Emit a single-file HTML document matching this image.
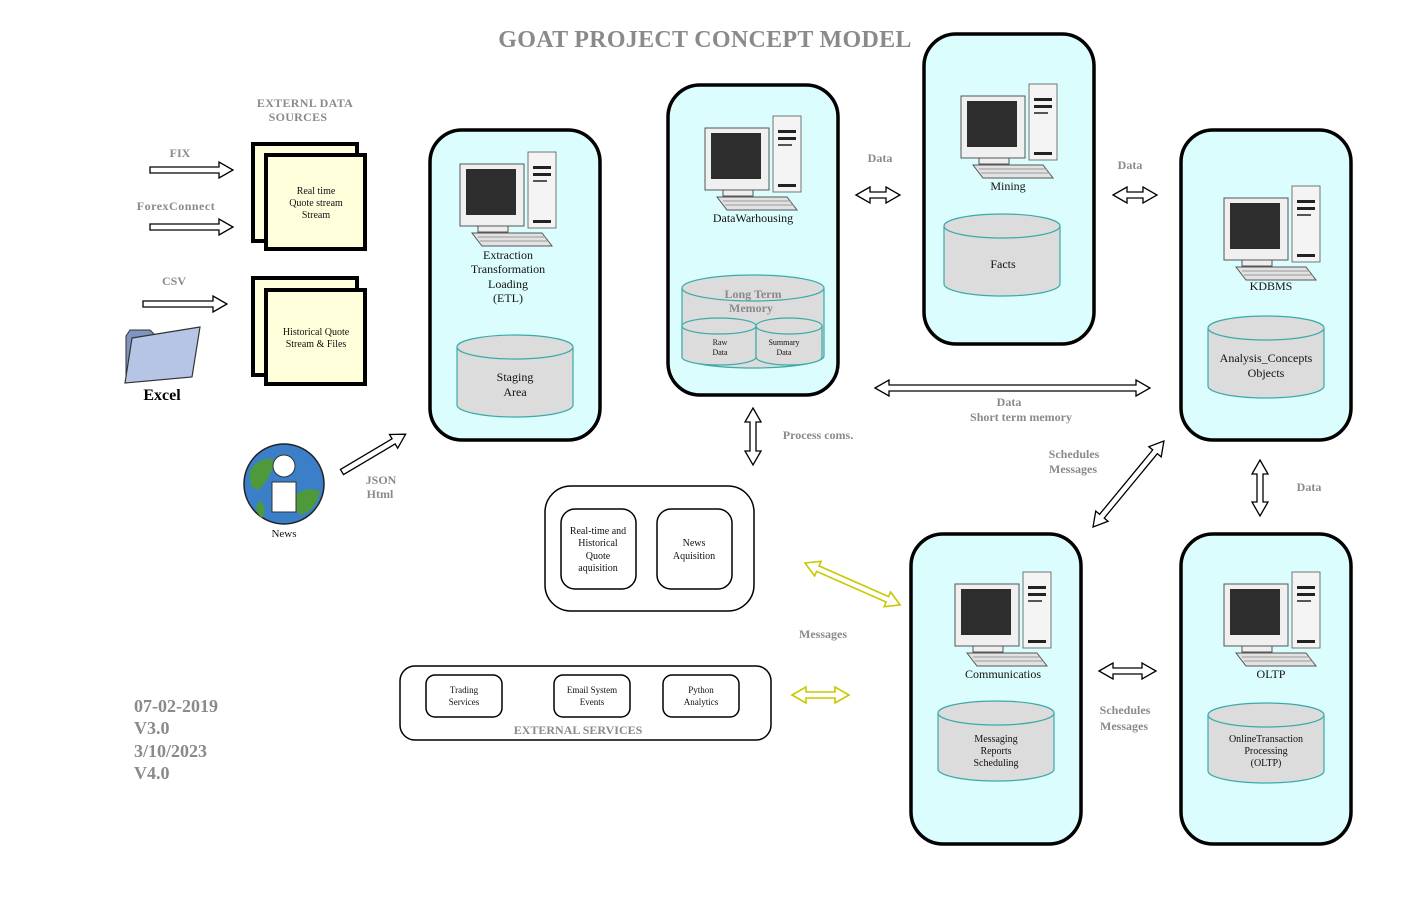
<!DOCTYPE html>
<html><head><meta charset="utf-8"><style>
body{margin:0;background:#fff}
svg{display:block}
text{font-family:"Liberation Serif",serif}
.g{fill:#8a8a8a;font-weight:bold}
.k{fill:#111}
.panel{fill:#dcfdfd;stroke:#000;stroke-width:3.5}
.cyl{fill:#dcdcdc;stroke:#3aaaa8;stroke-width:1.2}
.ar{fill:#fff;stroke:#000;stroke-width:1.3}
.ay{fill:#fff;stroke:#c8c800;stroke-width:1.6}
</style></head><body>
<svg width="1426" height="899" viewBox="0 0 1426 899" xmlns="http://www.w3.org/2000/svg">
<defs>
<g id="pc">
  <rect x="70" y="0" width="28" height="76" fill="#f4f4f4" stroke="#555" stroke-width="0.8"/>
  <rect x="75" y="14" width="18" height="3" fill="#222"/>
  <rect x="75" y="21" width="18" height="3" fill="#222"/>
  <rect x="75" y="28" width="14" height="2" fill="#555"/>
  <rect x="75" y="68" width="18" height="3" fill="#222"/>
  <rect x="2" y="12" width="64" height="62" fill="#f0f0f0" stroke="#555" stroke-width="1"/>
  <rect x="8" y="17" width="50" height="46" fill="#2d2d2d"/>
  <rect x="20" y="74" width="30" height="6" fill="#eee" stroke="#555" stroke-width="1"/>
  <polygon points="14,81 84,81 94,94 24,94" fill="#e2e2e2" stroke="#555" stroke-width="1"/>
  <line x1="20" y1="85" x2="88" y2="85" stroke="#999"/>
  <line x1="22" y1="89" x2="91" y2="89" stroke="#999"/>
</g>
</defs>

<text x="705" y="47" text-anchor="middle" class="g" font-size="24" letter-spacing="0.3">GOAT PROJECT CONCEPT MODEL</text>

<text x="305" y="107" text-anchor="middle" class="g" font-size="12" letter-spacing="0.3">EXTERNL DATA</text>
<text x="298" y="121" text-anchor="middle" class="g" font-size="12" letter-spacing="0.3">SOURCES</text>
<text x="180" y="157" text-anchor="middle" class="g" font-size="12">FIX</text>
<text x="176" y="210" text-anchor="middle" class="g" font-size="12" letter-spacing="0.5">ForexConnect</text>
<text x="174" y="285" text-anchor="middle" class="g" font-size="12">CSV</text>

<path class="ar" d="M150,167 H219 V162 L233,170 L219,178 V173 H150 Z"/>
<path class="ar" d="M150,224 H219 V219 L233,227 L219,235 V230 H150 Z"/>
<path class="ar" d="M143,301 H213 V296 L227,304 L213,312 V307 H143 Z"/>

<rect x="253" y="144" width="104" height="97" fill="#ffffdc" stroke="#000" stroke-width="4"/>
<rect x="266" y="155" width="99" height="94" fill="#ffffdc" stroke="#000" stroke-width="4"/>
<text x="316" y="194" text-anchor="middle" class="k" font-size="10">Real time</text>
<text x="316" y="206" text-anchor="middle" class="k" font-size="10">Quote stream</text>
<text x="316" y="218" text-anchor="middle" class="k" font-size="10">Stream</text>
<rect x="253" y="278" width="104" height="97" fill="#ffffdc" stroke="#000" stroke-width="4"/>
<rect x="266" y="290" width="99" height="94" fill="#ffffdc" stroke="#000" stroke-width="4"/>
<text x="316" y="335" text-anchor="middle" class="k" font-size="10">Historical Quote</text>
<text x="316" y="347" text-anchor="middle" class="k" font-size="10">Stream &amp; Files</text>

<path d="M126,336 L130,330 L150,330 L155,335 L160,335 L160,380 L126,380 Z" fill="#7f95c0" stroke="#333"/>
<polygon points="132,338 200,327 192,377 125,383" fill="#b6c4e6" stroke="#333" stroke-width="1.2"/>
<text x="162" y="400" text-anchor="middle" font-size="16" font-weight="bold" fill="#000">Excel</text>

<circle cx="284" cy="484" r="40" fill="#3a7fc8" stroke="#222" stroke-width="1.5"/>
<path d="M250,470 Q262,455 275,460 Q270,480 258,490 Q248,488 250,470Z" fill="#4e9a3a"/>
<path d="M295,495 Q310,485 320,492 Q315,512 300,515 Q292,505 295,495Z" fill="#4e9a3a"/>
<path d="M260,500 Q268,510 262,518 Q252,510 260,500Z" fill="#4e9a3a"/>
<circle cx="284" cy="466" r="11" fill="#fff" stroke="#333"/>
<rect x="272" y="482" width="24" height="30" fill="#fff" stroke="#333"/>
<text x="284" y="537" text-anchor="middle" class="k" font-size="11" fill="#333">News</text>
<g transform="translate(342,472) rotate(-30.7)"><path class="ar" d="M0,-3 H60 V-8 L74,0 L60,8 V3 H0 Z"/></g>
<text x="381" y="484" text-anchor="middle" class="g" font-size="12">JSON</text>
<text x="380" y="498" text-anchor="middle" class="g" font-size="12">Html</text>

<rect class="panel" x="430" y="130" width="170" height="310" rx="32"/>
<rect class="panel" x="668" y="85" width="170" height="310" rx="32"/>
<rect class="panel" x="924" y="34" width="170" height="310" rx="32"/>
<rect class="panel" x="1181" y="130" width="170" height="310" rx="32"/>
<rect class="panel" x="911" y="534" width="170" height="310" rx="32"/>
<rect class="panel" x="1181" y="534" width="170" height="310" rx="32"/>

<use href="#pc" x="458" y="152"/>
<use href="#pc" x="703" y="116"/>
<use href="#pc" x="959" y="84"/>
<use href="#pc" x="1222" y="186"/>
<use href="#pc" x="953" y="572"/>
<use href="#pc" x="1222" y="572"/>

<text x="508" y="259" text-anchor="middle" class="k" font-size="12">Extraction</text>
<text x="508" y="273" text-anchor="middle" class="k" font-size="12">Transformation</text>
<text x="508" y="288" text-anchor="middle" class="k" font-size="12">Loading</text>
<text x="508" y="302" text-anchor="middle" class="k" font-size="12">(ETL)</text>
<text x="753" y="222" text-anchor="middle" class="k" font-size="12">DataWarhousing</text>
<text x="1008" y="190" text-anchor="middle" class="k" font-size="12">Mining</text>
<text x="1271" y="290" text-anchor="middle" class="k" font-size="12">KDBMS</text>
<text x="1003" y="678" text-anchor="middle" class="k" font-size="12">Communicatios</text>
<text x="1271" y="678" text-anchor="middle" class="k" font-size="12">OLTP</text>

<path class="cyl" d="M457,347 V405 A58,12 0 0 0 573,405 V347"/><ellipse class="cyl" cx="515" cy="347" rx="58" ry="12"/>
<text x="515" y="381" text-anchor="middle" class="k" font-size="12" fill="#222">Staging</text>
<text x="515" y="396" text-anchor="middle" class="k" font-size="12" fill="#222">Area</text>

<path class="cyl" d="M944,226 V284 A58,12 0 0 0 1060,284 V226"/><ellipse class="cyl" cx="1002" cy="226" rx="58" ry="12"/>
<text x="1003" y="268" text-anchor="middle" class="k" font-size="12">Facts</text>

<path class="cyl" d="M1208,328 V386 A58,12 0 0 0 1324,386 V328"/><ellipse class="cyl" cx="1266" cy="328" rx="58" ry="12"/>
<text x="1266" y="362" text-anchor="middle" class="k" font-size="12">Analysis_Concepts</text>
<text x="1266" y="377" text-anchor="middle" class="k" font-size="12">Objects</text>

<path class="cyl" d="M938,713 V769 A58,12 0 0 0 1054,769 V713"/><ellipse class="cyl" cx="996" cy="713" rx="58" ry="12"/>
<text x="996" y="742" text-anchor="middle" class="k" font-size="10">Messaging</text>
<text x="996" y="754" text-anchor="middle" class="k" font-size="10">Reports</text>
<text x="996" y="766" text-anchor="middle" class="k" font-size="10">Scheduling</text>

<path class="cyl" d="M1208,715 V771 A58,12 0 0 0 1324,771 V715"/><ellipse class="cyl" cx="1266" cy="715" rx="58" ry="12"/>
<text x="1266" y="742" text-anchor="middle" class="k" font-size="10">OnlineTransaction</text>
<text x="1266" y="754" text-anchor="middle" class="k" font-size="10">Processing</text>
<text x="1266" y="766" text-anchor="middle" class="k" font-size="10">(OLTP)</text>

<path class="cyl" d="M682,288 V356 A71,12 0 0 0 824,356 V288"/><ellipse class="cyl" cx="753" cy="288" rx="71" ry="13"/>
<text x="753" y="298" text-anchor="middle" class="g" font-size="12">Long Term</text>
<text x="751" y="312" text-anchor="middle" class="g" font-size="12">Memory</text>
<path class="cyl" d="M682,326 V357 A37,8 0 0 0 756,357 V326"/><ellipse class="cyl" cx="719" cy="326" rx="37" ry="8"/>
<path class="cyl" d="M756,326 V357 A33,8 0 0 0 822,357 V326"/><ellipse class="cyl" cx="789" cy="326" rx="33" ry="8"/>
<text x="720" y="345" text-anchor="middle" class="k" font-size="8">Raw</text>
<text x="720" y="355" text-anchor="middle" class="k" font-size="8">Data</text>
<text x="784" y="345" text-anchor="middle" class="k" font-size="8">Summary</text>
<text x="784" y="355" text-anchor="middle" class="k" font-size="8">Data</text>

<path class="ar" d="M856,195 L870,187 V192 H886 V187 L900,195 L886,203 V198 H870 V203 Z"/>
<text x="880" y="162" text-anchor="middle" class="g" font-size="12">Data</text>
<path class="ar" d="M1113,195 L1127,187 V192 H1143 V187 L1157,195 L1143,203 V198 H1127 V203 Z"/>
<text x="1130" y="169" text-anchor="middle" class="g" font-size="12">Data</text>
<path class="ar" d="M875,388 L889,380 V385 H1136 V380 L1150,388 L1136,396 V391 H889 V396 Z"/>
<text x="1009" y="406" text-anchor="middle" class="g" font-size="12">Data</text>
<text x="1021" y="421" text-anchor="middle" class="g" font-size="12">Short term memory</text>
<path class="ar" d="M753,408 L761,422 H756 V451 H761 L753,465 L745,451 H750 V422 H745 Z"/>
<text x="818" y="439" text-anchor="middle" class="g" font-size="12">Process coms.</text>
<path class="ar" d="M1260,460 L1268,474 H1263 V502 H1268 L1260,516 L1252,502 H1257 V474 H1252 Z"/>
<text x="1309" y="491" text-anchor="middle" class="g" font-size="12">Data</text>
<g transform="translate(1093,527) rotate(-50.5)"><path class="ar" d="M0,0 L14,-8 V-3 H97.5 V-8 L111.5,0 L97.5,8 V3 H14 V8 Z"/></g>
<text x="1074" y="458" text-anchor="middle" class="g" font-size="12">Schedules</text>
<text x="1073" y="473" text-anchor="middle" class="g" font-size="12">Messages</text>
<path class="ar" d="M1099,671 L1113,663 V668 H1142 V663 L1156,671 L1142,679 V674 H1113 V679 Z"/>
<text x="1125" y="714" text-anchor="middle" class="g" font-size="12">Schedules</text>
<text x="1124" y="730" text-anchor="middle" class="g" font-size="12">Messages</text>
<g transform="translate(805,563) rotate(23.8)"><path class="ay" d="M0,0 L14,-8 V-3 H90 V-8 L104,0 L90,8 V3 H14 V8 Z"/></g>
<text x="823" y="638" text-anchor="middle" class="g" font-size="12">Messages</text>
<path class="ay" d="M792,695 L806,687 V692 H835 V687 L849,695 L835,703 V698 H806 V703 Z"/>

<rect x="545" y="486" width="209" height="125" rx="26" fill="#fff" stroke="#000" stroke-width="1.5"/>
<rect x="561" y="509" width="75" height="80" rx="14" fill="#fff" stroke="#000" stroke-width="1.5"/>
<rect x="657" y="509" width="75" height="80" rx="14" fill="#fff" stroke="#000" stroke-width="1.5"/>
<text x="598" y="534" text-anchor="middle" class="k" font-size="10">Real-time and</text>
<text x="598" y="546" text-anchor="middle" class="k" font-size="10">Historical</text>
<text x="598" y="559" text-anchor="middle" class="k" font-size="10">Quote</text>
<text x="598" y="571" text-anchor="middle" class="k" font-size="10">aquisition</text>
<text x="694" y="546" text-anchor="middle" class="k" font-size="10">News</text>
<text x="694" y="559" text-anchor="middle" class="k" font-size="10">Aquisition</text>

<rect x="400" y="666" width="371" height="74" rx="15" fill="#fff" stroke="#000" stroke-width="1.5"/>
<rect x="426" y="675" width="76" height="42" rx="9" fill="#fff" stroke="#000" stroke-width="1.5"/>
<rect x="554" y="675" width="76" height="42" rx="9" fill="#fff" stroke="#000" stroke-width="1.5"/>
<rect x="663" y="675" width="76" height="42" rx="9" fill="#fff" stroke="#000" stroke-width="1.5"/>
<text x="464" y="693" text-anchor="middle" class="k" font-size="9">Trading</text>
<text x="464" y="705" text-anchor="middle" class="k" font-size="9">Services</text>
<text x="592" y="693" text-anchor="middle" class="k" font-size="9">Email System</text>
<text x="592" y="705" text-anchor="middle" class="k" font-size="9">Events</text>
<text x="701" y="693" text-anchor="middle" class="k" font-size="9">Python</text>
<text x="701" y="705" text-anchor="middle" class="k" font-size="9">Analytics</text>
<text x="578" y="734" text-anchor="middle" class="g" font-size="12">EXTERNAL SERVICES</text>

<text x="134" y="712" class="g" font-size="18">07-02-2019</text>
<text x="134" y="734" class="g" font-size="18">V3.0</text>
<text x="134" y="757" class="g" font-size="18">3/10/2023</text>
<text x="134" y="779" class="g" font-size="18">V4.0</text>
</svg>
</body></html>
